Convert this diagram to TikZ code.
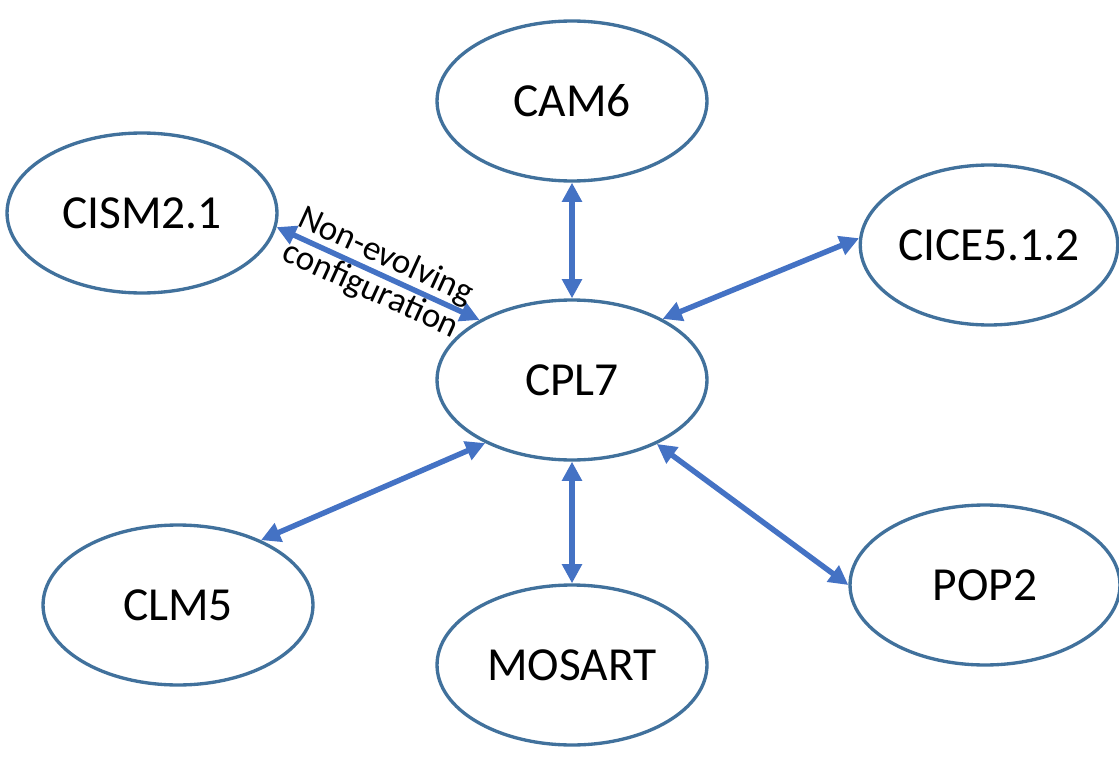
\documentclass[tikz,border=0pt]{standalone}
\usepackage{fontspec}
\setmainfont{Carlito}
\usetikzlibrary{shapes.geometric,arrows.meta}
\definecolor{ringblue}{HTML}{41719C}
\definecolor{linkblue}{HTML}{4472C4}

\begin{document}
\begin{tikzpicture}[
    x=0.02cm, y=-0.02cm,
    comp/.style={ellipse, draw=ringblue, line width=1.9pt,
        minimum width=5.4cm, minimum height=3.2cm, inner sep=0pt,
        font=\fontsize{27}{32}\selectfont},
    link/.style={draw=linkblue, line width=3.1pt,
        {Triangle[length=11pt,width=11pt]}-{Triangle[length=11pt,width=11pt]}},
    note/.style={font=\fontsize{20}{21}\selectfont, align=center, sloped, inner sep=0pt}
  ]
  \useasboundingbox (0,0) rectangle (1119,757);
  % components
  \node[comp] (cpl)    at (572,380) {CPL7};
  \node[comp] (cam)    at (572,101) {CAM6};
  \node[comp] (cism)   at (142,213) {CISM2.1};
  \node[comp, minimum width=5.15cm] (cice) at (989,245) {CICE5.1.2};
  \node[comp] (clm)    at (178,605) {CLM5};
  \node[comp] (mosart) at (572,665) {MOSART};
  \node[comp] (pop)    at (985,585) {POP2};
  % couplings
  \draw[link] (cam.south) -- (cpl.north);
  \draw[link] (cism.-6) -- node[note] {Non-evolving\\configuration} (cpl.147);
  \draw[link] (cpl.34) -- (cice.177);
  \draw[link] (cpl.216) -- (clm.38);
  \draw[link] (cpl.south) -- (mosart.north);
  \draw[link] (cpl.-37) -- (pop.west);
\end{tikzpicture}
\end{document}
